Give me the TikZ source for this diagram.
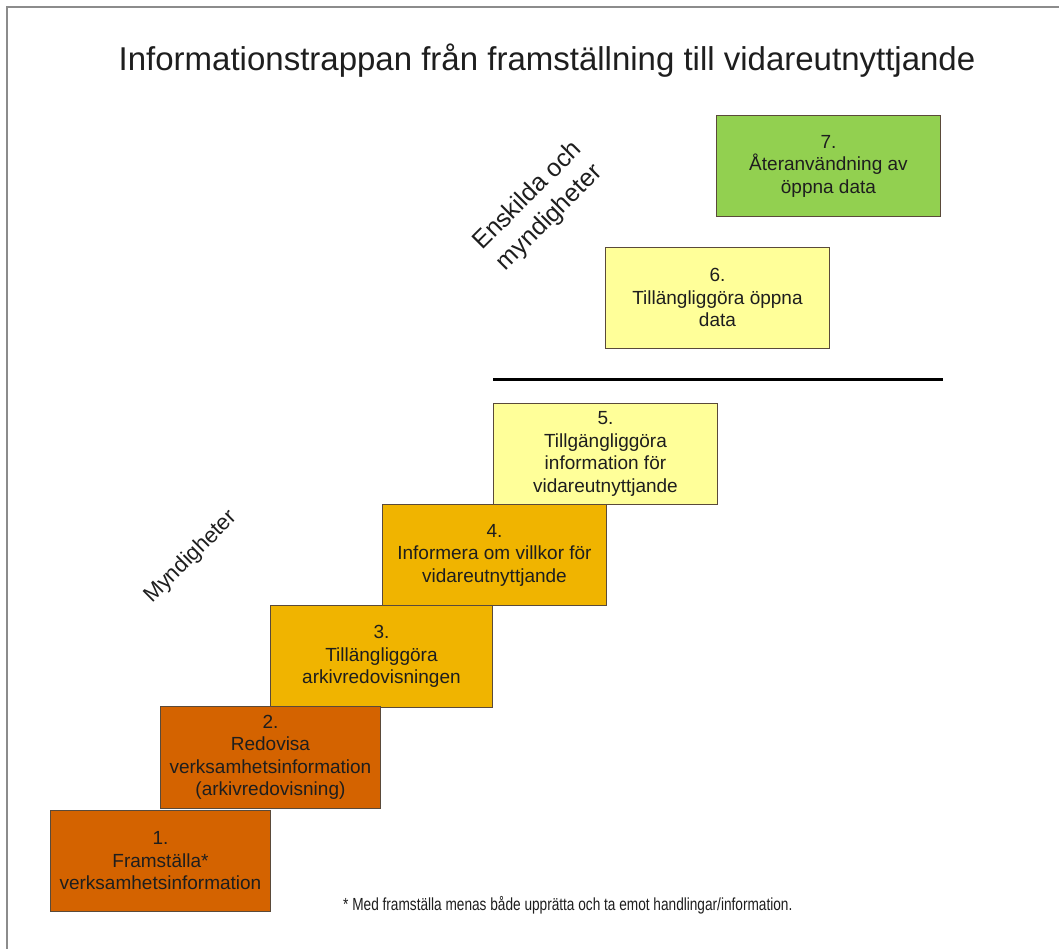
\documentclass[tikz,border=0pt]{standalone}
\usepackage{fontspec}
\setmainfont{Liberation Sans}
\definecolor{frame}{HTML}{8C8C8C}
\definecolor{boxline}{HTML}{5A4A3A}
\definecolor{txt}{HTML}{1E1E1E}
\definecolor{cOrange}{HTML}{D46300}
\definecolor{cGold}{HTML}{F0B400}
\definecolor{cLight}{HTML}{FFFF99}
\definecolor{cGreen}{HTML}{92D050}
\tikzset{
  stepbox/.style={draw=boxline, line width=0.9pt, inner sep=0pt, align=center,
    anchor=north west, text=txt, font=\fontsize{19}{22.5}\selectfont},
  lbl/.style={text=txt, inner sep=0pt, align=center},
}
\begin{document}
\begin{tikzpicture}[x=1pt,y=-1pt]
\useasboundingbox (0,0) rectangle (1059,949);
\fill[white] (0,0) rectangle (1059,949);
\draw[frame, line width=1.5pt] (7,949) -- (7,7) -- (1059,7);
\node[lbl, font=\fontsize{33}{38}\selectfont] (title) at (547,61) {Informationstrappan från framställning till vidareutnyttjande};
\node[stepbox, fill=cGreen, minimum width=224pt, minimum height=101pt] (s7) at (716,115) {7.\\Återanvändning av\\öppna data};
\node[stepbox, fill=cLight, minimum width=224pt, minimum height=101pt] (s6) at (605,247) {6.\\Tillängliggöra öppna\\data};
\coordinate (la) at (493,379);
\coordinate (lb) at (943,379);
\draw[black, line width=3pt] (la) -- (lb);
\node[stepbox, fill=cLight, minimum width=224pt, minimum height=101pt] (s5) at (493,403) {5.\\Tillgängliggöra\\information för\\vidareutnyttjande};
\node[stepbox, fill=cGold, minimum width=224pt, minimum height=101pt] (s4) at (382,504) {4.\\Informera om villkor för\\vidareutnyttjande};
\node[stepbox, fill=cGold, minimum width=222pt, minimum height=102pt] (s3) at (270,605) {3.\\Tillängliggöra\\arkivredovisningen};
\node[stepbox, fill=cOrange, minimum width=220pt, minimum height=102pt] (s2) at (160,706) {2.\\Redovisa\\verksamhetsinformation\\(arkivredovisning)};
\node[stepbox, fill=cOrange, minimum width=220pt, minimum height=101pt] (s1) at (50,810) {1.\\Framställa*\\verksamhetsinformation};
\node[lbl, rotate=45, font=\fontsize{22}{25}\selectfont] (myn) at (191,557) {Myndigheter};
\node[lbl, rotate=45, font=\fontsize{25}{31}\selectfont] (ens) at (539,207) {Enskilda och\\myndigheter};
\node[lbl, anchor=west] (note) at (343,905) {\scalebox{0.78}[1]{\fontsize{17.5}{20}\selectfont * Med framställa menas både upprätta och ta emot handlingar/information.}};
\end{tikzpicture}
\end{document}
